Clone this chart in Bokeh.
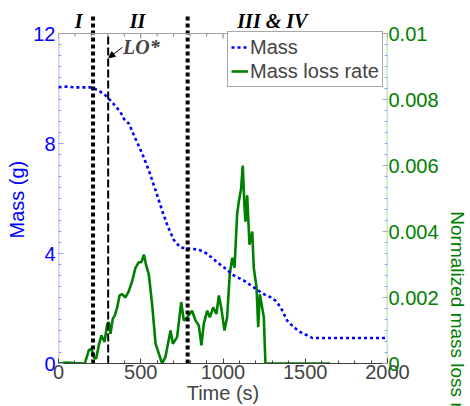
from bokeh.plotting import figure
from bokeh.models import (Range1d, LinearAxis, FixedTicker, Arrow, NormalHead,
                          Label, ColumnDataSource, Span, Title)
from bokeh.core.properties import value
from bokeh.embed import file_html
from bokeh.resources import INLINE

# ---------------- data ----------------
time_mass = [0, 50, 100, 150, 205, 250, 286, 326, 377, 397, 428, 468, 509, 549,
             590, 630, 660, 700, 740, 800, 850, 904, 965, 1005, 1066, 1126, 1187,
             1228, 1260, 1289, 1320, 1350, 1390, 1430, 1471, 1512, 1542, 1600,
             1700, 1800, 1900, 2000]
mass = [10.05, 10.07, 10.04, 10.04, 10.04, 9.9, 9.75, 9.5, 9.14, 8.9, 8.72, 8.17,
        7.63, 7.02, 6.3, 5.56, 5.05, 4.5, 4.22, 4.17, 4.15, 3.99, 3.68, 3.5, 3.2,
        3.02, 2.77, 2.6, 2.48, 2.41, 2.28, 2.05, 1.56, 1.32, 1.14, 1.02, 0.93,
        0.93, 0.93, 0.93, 0.93, 0.93]

time_rate = [0, 50, 100, 160, 184, 200, 215, 229, 245, 261, 280, 296, 306, 316,
             330, 342, 357, 371, 387, 407, 428, 448, 468, 488, 504, 519, 533, 549,
             569, 590, 610, 630, 650, 681, 695, 721, 746, 762, 782, 812, 833, 853,
             869, 883, 904, 920, 940, 960, 975, 989, 1009, 1025, 1041, 1056, 1070,
             1086, 1096, 1110, 1120, 1130, 1137, 1147, 1161, 1178, 1187, 1204,
             1214, 1224, 1238, 1248, 1258, 1650]
rate = [0.0, 0.00003, 0.00001, 0.0, 0.0004, 0.00045, 0.00018, 0.00015, 0.00055,
        0.00085, 0.00065, 0.0012, 0.00125, 0.0009, 0.00136, 0.00145, 0.0017,
        0.00206, 0.0021, 0.002, 0.0022, 0.0025, 0.0029, 0.00307, 0.00307, 0.0033,
        0.00297, 0.0027, 0.0018, 0.0006, 0.0003, 0.0, 0.0002, 0.001, 0.0006,
        0.0008, 0.00186, 0.0013, 0.0014, 0.0016, 0.0013, 0.00115, 0.00055,
        0.0012, 0.0016, 0.0014, 0.0017, 0.0015, 0.00206, 0.0017, 0.001, 0.0014,
        0.0027, 0.0032, 0.0029, 0.00453, 0.0049, 0.0053, 0.006, 0.0048, 0.0043,
        0.0051, 0.0036, 0.004, 0.0029, 0.0023, 0.0011, 0.0021, 0.0017, 0.0014,
        0.0, 0.0]

phase_bounds = [210, 785]
lo_time = 302
phase_names = ["I", "II", "III & IV"]
phase_centers = [122, 480, 1300]
lo_label = "LO*"

x_ticks = [0, 500, 1000, 1500, 2000]
mass_ticks = [0, 4, 8, 12]
rate_ticks = [0, 0.002, 0.004, 0.006, 0.008, 0.01]
rate_tick_labels = ["0", "0.002", "0.004", "0.006", "0.008", "0.01"]

MASS_MAX = 12
RATE_MAX = 0.01

BLUE = "#0000ff"
GREEN = "#008000"
FONT = "Liberation Sans"
SERIF = "Liberation Serif"
FS = "20px"

# frame spans 3..363 px; the axes box itself ends at MASS_MAX (y = 33 px)
FRAME_TOP, FRAME_BOTTOM, BOX_TOP = 3, 363, 33
LINE_TOP = 14      # phase boundary lines reach this pixel row
NAME_MID = 20      # vertical middle of the phase names
ext = (FRAME_BOTTOM - FRAME_TOP) / (FRAME_BOTTOM - BOX_TOP)
y_top = MASS_MAX * ext
px_per_unit = (FRAME_BOTTOM - BOX_TOP) / MASS_MAX

p = figure(width=470, height=406, x_range=Range1d(0, 2000),
           y_range=Range1d(0, y_top),
           output_backend="svg", toolbar_location=None,
           min_border_left=58, min_border_right=83, min_border_top=FRAME_TOP,
           min_border_bottom=406 - FRAME_BOTTOM)
p.grid.visible = False
p.outline_line_color = None
p.background_fill_color = "white"
p.border_fill_color = "white"

p.extra_y_ranges = {"rate": Range1d(0, RATE_MAX * ext)}

# bottom axis
xa = p.xaxis[0]
xa.ticker = FixedTicker(ticks=x_ticks, minor_ticks=list(range(0, 2001, 100)))
xa.axis_label = "Time (s)"
xa.axis_label_text_font = FONT
xa.axis_label_text_font_style = "normal"
xa.axis_label_text_font_size = FS
xa.axis_label_standoff = 0
xa.major_label_text_font = FONT
xa.major_label_text_font_size = FS
xa.major_label_standoff = 1
xa.major_tick_in = 5
xa.major_tick_out = 0
xa.minor_tick_in = 3
xa.minor_tick_out = 0
xa.axis_line_color = "#404040"
xa.major_tick_line_color = "#404040"
xa.minor_tick_line_color = "#404040"

# left axis
ya = p.yaxis[0]
ya.ticker = FixedTicker(ticks=mass_ticks, minor_ticks=[i * 0.4 for i in range(31)])
ya.major_label_text_font = FONT
ya.major_label_text_font_size = FS
ya.major_label_text_color = BLUE
ya.major_label_standoff = 3
ya.major_tick_in = 5
ya.major_tick_out = 0
ya.minor_tick_in = 3
ya.minor_tick_out = 0
ya.axis_line_color = None
ya.major_tick_line_color = "#9a9aff"
ya.minor_tick_line_color = "#9a9aff"

# right axis
ra = LinearAxis(y_range_name="rate",
                ticker=FixedTicker(ticks=rate_ticks,
                                   minor_ticks=[i * RATE_MAX / 30 for i in range(31)]),
                major_label_overrides={t: s for t, s in zip(rate_ticks, rate_tick_labels)})
ra.axis_label = "Normalized mass loss rate(g\u00b7g\u207b\u00b9\u00b7s\u207b\u00b9)"
ra.axis_label_text_font = FONT
ra.axis_label_text_font_style = "normal"
ra.axis_label_text_font_size = "19px"
ra.axis_label_text_color = GREEN
ra.axis_label_standoff = 5
try:
    ra.axis_label_align = "start"
except (AttributeError, ValueError):
    pass
ra.major_label_text_font = FONT
ra.major_label_text_font_size = FS
ra.major_label_text_color = GREEN
ra.major_label_standoff = 1
ra.major_tick_in = 5
ra.major_tick_out = 0
ra.minor_tick_in = 3
ra.minor_tick_out = 0
ra.axis_line_color = None
ra.major_tick_line_color = "#90c890"
ra.minor_tick_line_color = "#9a9aff"
p.add_layout(ra, "right")

# left axis title (reads upwards, placed like the reference)
p.add_layout(Title(text="Mass (g)", align="left", offset=125, standoff=6,
                   text_font=FONT, text_font_style="normal", text_font_size=FS,
                   text_color=BLUE), "left")

# box edges (left, right, top) of the axes area
p.segment(x0=[0], y0=[0], x1=[0], y1=[MASS_MAX], line_color="#9a9aff", line_width=1.5)
p.segment(x0=[2000], y0=[0], x1=[2000], y1=[MASS_MAX], line_color="#90c890",
          line_width=1.5)
p.add_layout(Span(location=MASS_MAX, dimension="width", line_color="#a0a0a0",
                  line_width=1))

# top ticks (inward)
minor_x = [t for t in range(0, 2001, 100) if t not in x_ticks]
p.segment(x0=x_ticks, y0=[MASS_MAX] * len(x_ticks), x1=x_ticks,
          y1=[MASS_MAX - 5 / px_per_unit] * len(x_ticks), line_color="#808080")
p.segment(x0=minor_x, y0=[MASS_MAX] * len(minor_x), x1=minor_x,
          y1=[MASS_MAX - 3 / px_per_unit] * len(minor_x), line_color="#808080")

# data lines
src_r = ColumnDataSource(dict(t=time_rate, r=rate))
src_m = ColumnDataSource(dict(t=time_mass, m=mass))
p.line("t", "r", source=src_r, y_range_name="rate", line_color=GREEN,
       line_width=2.6, legend_label="Mass loss rate")
p.line("t", "m", source=src_m, line_color=BLUE, line_width=2.6,
       line_dash="3 3", legend_label="Mass")

# phase boundaries (reach above the axes box)
line_top = MASS_MAX + (BOX_TOP - LINE_TOP) / px_per_unit
p.segment(x0=phase_bounds, y0=[0] * len(phase_bounds), x1=phase_bounds,
          y1=[line_top] * len(phase_bounds), line_color="black", line_width=4,
          line_dash="4 3")
p.segment(x0=[lo_time], y0=[0], x1=[lo_time], y1=[MASS_MAX], line_color="black",
          line_width=2, line_dash="8 3")

# phase names above the box
name_y = MASS_MAX + (BOX_TOP - NAME_MID) / px_per_unit
p.text(x=phase_centers, y=[name_y] * len(phase_centers), text=phase_names,
       text_font=value(SERIF), text_font_style="bold italic",
       text_font_size="20px", text_baseline="middle", text_align="center",
       text_color="black")

# LO* annotation
p.add_layout(Arrow(end=NormalHead(size=6, fill_color="black", line_color="black"),
                   x_start=389, y_start=11.5, x_end=lo_time + 4, y_end=11.12,
                   line_color="black", line_width=1))
p.add_layout(Label(x=392, y=11.5, text=lo_label, text_font=SERIF,
                   text_font_style="bold italic", text_font_size="20px",
                   text_baseline="middle", text_align="left"))

# legend
lg = p.legend[0]
lg.items = [lg.items[1], lg.items[0]]
lg.location = (169, 276)
lg.margin = 0
lg.padding = 3
lg.spacing = 0
lg.glyph_width = 17
lg.glyph_height = 24
lg.label_height = 24
lg.label_standoff = 2
lg.label_text_font = FONT
lg.label_text_font_size = "20px"
lg.border_line_color = "#505050"
lg.border_line_width = 1
lg.background_fill_alpha = 1

open("out.html", "w").write(file_html(p, INLINE))
